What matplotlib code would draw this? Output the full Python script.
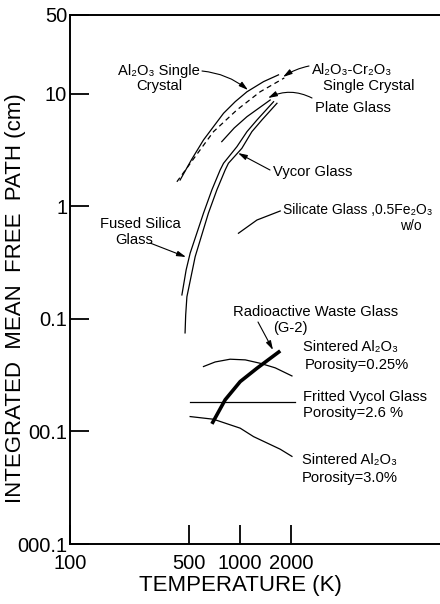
import matplotlib
matplotlib.use('Agg')
import matplotlib.pyplot as plt
from matplotlib import font_manager

# integrated mean free path (cm) vs temperature (K), per material
t_al2o3 = [445, 520, 611, 700, 802, 940, 1102, 1380, 1690]
mfp_al2o3 = [1.71, 2.60, 3.88, 5.10, 6.70, 8.50, 10.4, 12.8, 14.7]

t_al2o3_cr = [426, 546, 700, 961, 1318, 1828]
mfp_al2o3_cr = [1.65, 2.76, 4.60, 7.17, 10.4, 13.8]

t_plate = [783, 927, 1102, 1510]
mfp_plate = [3.75, 4.96, 6.25, 8.79]

t_fused = [456, 483, 510, 611, 685, 766, 802, 961, 1102, 1262, 1581]
mfp_fused = [0.163, 0.272, 0.383, 0.867, 1.40, 2.10, 2.41, 3.38, 4.60, 5.84, 8.49]

t_vycor = [476, 480, 488, 546, 653, 733, 820, 857, 1028, 1178, 1349, 1655]
mfp_vycor = [0.075, 0.108, 0.157, 0.357, 0.867, 1.40, 2.10, 2.41, 3.27, 4.60, 5.84, 8.22]

t_silicate = [982, 1262, 1730]
mfp_silicate = [0.576, 0.755, 0.908]

t_sint025 = [611, 716, 877, 1077, 1318, 1617, 2028]
mfp_sint025 = [0.0377, 0.0414, 0.0438, 0.0432, 0.0403, 0.0367, 0.0311]

t_fritted = [510, 2123]
mfp_fritted = [0.0184, 0.0184]

t_sint30 = [510, 700, 1005, 1205, 1730, 2028]
mfp_sint30 = [0.01355, 0.01283, 0.01069, 0.00899, 0.00695, 0.0060]

t_waste = [685, 820, 1005, 1262, 1730]
mfp_waste = [0.01167, 0.0191, 0.0277, 0.0364, 0.0519]

x_ticks = [100, 500, 1000, 2000]
x_ticklabels = ['100', '500', '1000', '2000']
y_ticks = [0.001, 0.01, 0.1, 1, 10, 50]
y_ticklabels = ['000.1', '00.1', '0.1', '1', '10', '50']

W, H = 440, 604


def has_font(name):
    try:
        font_manager.findfont(font_manager.FontProperties(family=name),
                              fallback_to_default=False)
        return True
    except Exception:
        return False


axis_font = 'Liberation Sans Narrow' if has_font('Liberation Sans Narrow') else 'Liberation Sans'
note_font = ['Liberation Sans', 'DejaVu Sans']


def px(x, y):
    # figure pixel (from top-left) -> figure fraction
    return x / W, 1 - y / H


fig = plt.figure(figsize=(W / 100, H / 100), dpi=100)
ax = fig.add_axes([70 / W, 60 / H, 370 / W, 529 / H])
ax.set_xscale('log')
ax.set_yscale('log')
ax.set_xlim(100, 15100)
ax.set_ylim(0.001, 50)

for s in ['left', 'bottom', 'top']:
    ax.spines[s].set_linewidth(1.4)
ax.spines['right'].set_visible(False)

ax.set_xticks(x_ticks)
ax.set_xticklabels(x_ticklabels)
ax.set_yticks(y_ticks)
ax.set_yticklabels(y_ticklabels)
ax.minorticks_off()
ax.tick_params(direction='in', length=14, width=1.3)
ax.tick_params(axis='x', pad=7)
ax.tick_params(axis='y', pad=2)
for lab in ax.get_xticklabels() + ax.get_yticklabels():
    lab.set_fontfamily(axis_font)
    lab.set_fontsize(14.5)

thin = dict(color='black', lw=0.9)
ax.plot(t_al2o3, mfp_al2o3, **thin)
ax.plot(t_al2o3_cr, mfp_al2o3_cr, color='black', lw=0.9, ls=(0, (4, 3)))
ax.plot(t_plate, mfp_plate, **thin)
ax.plot(t_fused, mfp_fused, **thin)
ax.plot(t_vycor, mfp_vycor, **thin)
ax.plot(t_silicate, mfp_silicate, **thin)
ax.plot(t_sint025, mfp_sint025, **thin)
ax.plot(t_fritted, mfp_fritted, **thin)
ax.plot(t_sint30, mfp_sint30, **thin)
ax.plot(t_waste, mfp_waste, color='black', lw=2.6, solid_capstyle='butt')

# curve labels: text, left x, centre y, size
labels = [
    ('Al₂O₃ Single', 118, 71, 10.6), ('Crystal', 136, 86, 10.6),
    ('Al₂O₃-Cr₂O₃', 312, 70, 10.6), ('Single Crystal', 323, 86, 10.6),
    ('Plate Glass', 315, 108, 10.6),
    ('Vycor Glass', 273, 172, 10.6),
    ('Silicate Glass ,0.5Fe₂O₃', 283, 210, 10.0), ('w/o', 400, 226, 10.0),
    ('Fused Silica', 100, 224, 10.6), ('Glass', 115, 240, 10.6),
    ('Radioactive Waste Glass', 233, 312, 10.6), ('(G-2)', 273, 328, 10.6),
    ('Sintered Al₂O₃', 303, 347, 10.6), ('Porosity=0.25%', 305, 365, 10.6),
    ('Fritted Vycol Glass', 303, 397, 10.6), ('Porosity=2.6 %', 303, 413, 10.6),
    ('Sintered Al₂O₃', 302, 460, 10.6), ('Porosity=3.0%', 302, 478, 10.6),
]
for txt, x, y, size in labels:
    fig.text(*px(x, y), txt, ha='left', va='center', fontsize=size,
             family=note_font)

# leader arrows: start, tip, curvature
leaders = [
    ((202, 71), (248, 90), -0.15),
    ((309, 66), (283, 77), 0.1),
    ((312, 98), (268, 98), 0.25),
    ((270, 170), (238, 153), 0.0),
    ((150, 243), (186, 257), 0.0),
    ((258, 322), (273, 350), 0.0),
]
for (x0, y0), (x1, y1), rad in leaders:
    ax.annotate('', xy=px(x1, y1), xycoords='figure fraction',
                xytext=px(x0, y0), textcoords='figure fraction',
                arrowprops=dict(arrowstyle='-|>,head_length=0.45,head_width=0.13',
                                mutation_scale=12, color='black', lw=0.8,
                                shrinkA=0, shrinkB=0,
                                connectionstyle=f'arc3,rad={rad}'))

fig.text(*px(16, 298), 'INTEGRATED  MEAN  FREE  PATH (cm)', rotation=90,
         ha='center', va='center', fontsize=16, family=axis_font)
fig.text(*px(240, 585), 'TEMPERATURE (K)', ha='center', va='center',
         fontsize=16, family=axis_font)

fig.savefig('out.png', dpi=100)
